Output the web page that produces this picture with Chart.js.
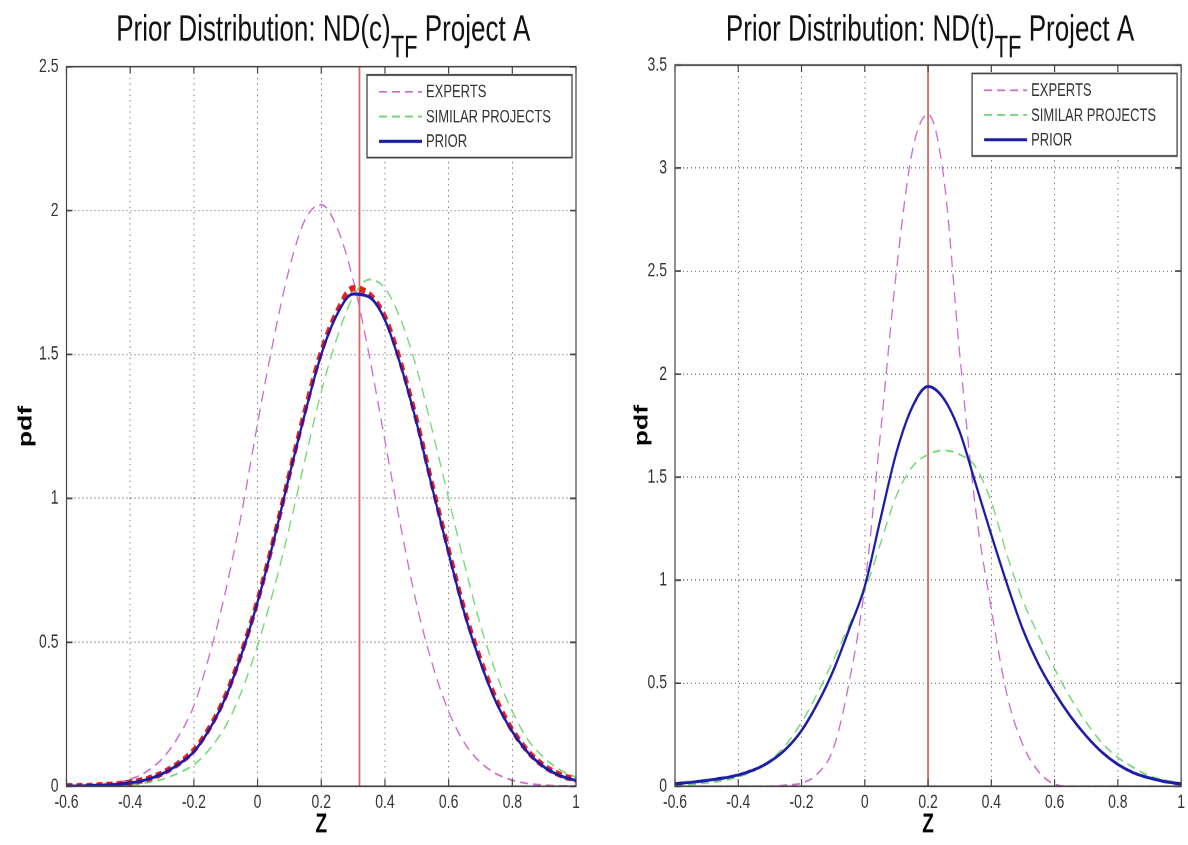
<!DOCTYPE html>
<html>
<head>
<meta charset="utf-8">
<script src="https://cdn.jsdelivr.net/npm/chart.js@4.4.1/dist/chart.umd.min.js"></script>
<style>
  html, body { margin: 0; padding: 0; background: #fff; }
  body { width: 1188px; height: 845px; overflow: hidden; position: relative; }
  /* the source figure is stretched vertically, so each panel is drawn flat and scaled */
  .panel { position: absolute; top: 0; width: 594px; height: 604px; transform-origin: 0 0; transform: scaleY(1.399); }
  #panelC { left: 0; }
  #panelT { left: 594px; }
</style>
</head>
<body>
<div class="panel" id="panelC"><canvas id="chartC" width="594" height="604"></canvas></div>
<div class="panel" id="panelT"><canvas id="chartT" width="594" height="604"></canvas></div>
<script>
const zGrid = [-0.6, -0.55, -0.5, -0.45, -0.4, -0.35, -0.3, -0.25, -0.2, -0.15, -0.1, -0.05, 0,
  0.05, 0.1, 0.15, 0.2, 0.25, 0.3, 0.35, 0.4, 0.45, 0.5, 0.55, 0.6, 0.65, 0.7, 0.75, 0.8, 0.85, 0.9, 0.95, 1];

// ND(c) TF
const expertsC = [0.001, 0.002, 0.005, 0.011, 0.024, 0.05, 0.095, 0.17, 0.28, 0.46, 0.68, 0.95, 1.26,
  1.55, 1.80, 1.97, 2.02, 1.94, 1.76, 1.50, 1.20, 0.90, 0.63, 0.42, 0.26, 0.15, 0.083, 0.043, 0.021, 0.009, 0.004, 0.002, 0.001];
const similarC = [0, 0.0005, 0.001, 0.003, 0.006, 0.012, 0.024, 0.045, 0.075, 0.13, 0.21, 0.33, 0.49,
  0.68, 0.90, 1.14, 1.37, 1.56, 1.70, 1.76, 1.73, 1.62, 1.45, 1.23, 1.00, 0.77, 0.56, 0.39, 0.26, 0.16, 0.099, 0.057, 0.031];
const priorC = [0.0005, 0.001, 0.003, 0.006, 0.012, 0.023, 0.043, 0.075, 0.12, 0.2, 0.31, 0.46, 0.64,
  0.85, 1.08, 1.30, 1.50, 1.64, 1.71, 1.70, 1.62, 1.46, 1.26, 1.03, 0.81, 0.60, 0.43, 0.29, 0.19, 0.116, 0.067, 0.037, 0.02];
const sampleC = [0.0005, 0.001, 0.003, 0.006, 0.013, 0.024, 0.045, 0.078, 0.125, 0.205, 0.315, 0.465, 0.645,
  0.855, 1.085, 1.31, 1.51, 1.65, 1.73, 1.71, 1.63, 1.47, 1.27, 1.04, 0.82, 0.61, 0.44, 0.30, 0.195, 0.12, 0.07, 0.04, 0.022];
const meanC = 0.32;
const yTopC = 2.5;

// ND(t) TF
const expertsT = [0, 0, 0, 0, 0, 0, 0, 0.005, 0.015, 0.06, 0.18, 0.5, 0.97,
  1.72, 2.5, 3.08, 3.26, 2.95, 2.1, 1.35, 0.86, 0.44, 0.2, 0.07, 0.01, 0, 0, 0, 0, 0, 0, 0, 0];
const similarT = [0.005, 0.01, 0.016, 0.027, 0.045, 0.077, 0.125, 0.2, 0.31, 0.45, 0.61, 0.78, 0.95,
  1.18, 1.41, 1.55, 1.61, 1.63, 1.61, 1.55, 1.38, 1.12, 0.9, 0.73, 0.57, 0.43, 0.31, 0.21, 0.14, 0.09, 0.05, 0.03, 0.015];
const priorT = [0.012, 0.019, 0.028, 0.039, 0.055, 0.08, 0.12, 0.18, 0.27, 0.4, 0.56, 0.76, 0.97,
  1.3, 1.62, 1.84, 1.94, 1.88, 1.72, 1.47, 1.22, 0.98, 0.76, 0.59, 0.455, 0.34, 0.244, 0.165, 0.106, 0.065, 0.04, 0.022, 0.011];
const meanT = 0.2;
const yTopT = 3.5;

const legendLabels = ['EXPERTS', 'SIMILAR PROJECTS', 'PRIOR'];

const PINK = '#cc6ccc', GREEN = '#74d874', BLUE = '#1c1ca8', RED = '#e8201c', REDLINE = '#d46a64';
const FONT = '"Liberation Sans", Arial, sans-serif';

function pts(vals) { return zGrid.map((z, i) => ({ x: z, y: vals[i] })); }

const decorations = {
  id: 'decorations',
  afterDraw(chart) {
    const ctx = chart.ctx, ca = chart.chartArea;
    const o = chart.options.plugins.decorations;
    ctx.save();
    // axes box
    ctx.strokeStyle = '#444';
    ctx.lineWidth = 1.2;
    ctx.setLineDash([]);
    ctx.strokeRect(ca.left, ca.top, ca.right - ca.left, ca.bottom - ca.top);
    // inward ticks on all four sides
    ctx.beginPath();
    chart.scales.x.ticks.forEach(t => {
      const px = chart.scales.x.getPixelForValue(t.value);
      ctx.moveTo(px, ca.bottom); ctx.lineTo(px, ca.bottom - 5);
      ctx.moveTo(px, ca.top); ctx.lineTo(px, ca.top + 5);
    });
    chart.scales.y.ticks.forEach(t => {
      const py = chart.scales.y.getPixelForValue(t.value);
      ctx.moveTo(ca.left, py); ctx.lineTo(ca.left + 6, py);
      ctx.moveTo(ca.right, py); ctx.lineTo(ca.right - 6, py);
    });
    ctx.stroke();

    // title with subscript
    ctx.fillStyle = '#111';
    ctx.textBaseline = 'alphabetic';
    ctx.textAlign = 'left';
    ctx.font = '26px ' + FONT;
    const w1 = ctx.measureText(o.title).width;
    const w3 = ctx.measureText(o.tail).width;
    ctx.font = '22px ' + FONT;
    const w2 = ctx.measureText(o.sub).width;
    let x = (ca.left + ca.right) / 2 + 2 - (w1 + w2 + w3) / 2;
    ctx.font = '26px ' + FONT;
    ctx.fillText(o.title, x, 28.8);
    ctx.font = '22px ' + FONT;
    ctx.fillText(o.sub, x + w1, 40.8);
    ctx.font = '26px ' + FONT;
    ctx.fillText(o.tail, x + w1 + w2, 28.8);

    // legend box inside the axes
    const bw = 205, bh = 59;
    const bx = ca.right - 4 - bw, by = ca.top + 6;
    ctx.fillStyle = '#fff';
    ctx.fillRect(bx, by, bw, bh);
    ctx.strokeStyle = '#444';
    ctx.lineWidth = 1.3;
    ctx.strokeRect(bx, by, bw, bh);
    ctx.font = '13px ' + FONT;
    ctx.textBaseline = 'middle';
    legendLabels.forEach((lab, k) => {
      const ds = chart.data.datasets[k];
      const y = by + 12 + k * 17.7;
      ctx.strokeStyle = ds.borderColor;
      ctx.lineWidth = ds.borderWidth;
      ctx.setLineDash(ds.borderDash || []);
      ctx.beginPath();
      ctx.moveTo(bx + 12, y); ctx.lineTo(bx + 55, y);
      ctx.stroke();
      ctx.setLineDash([]);
      ctx.fillStyle = '#333';
      ctx.fillText(lab, bx + 59, y + 0.5);
    });
    ctx.restore();
  }
};

function makeChart(id, cfg) {
  const W = 594, H = 604;
  const datasets = [
    { label: legendLabels[0], data: pts(cfg.experts), borderColor: PINK, borderWidth: 1.3, borderDash: [8, 5], order: 3 },
    { label: legendLabels[1], data: pts(cfg.similar), borderColor: GREEN, borderWidth: 1.3, borderDash: [8, 5], order: 4 },
    { label: legendLabels[2], data: pts(cfg.prior), borderColor: BLUE, borderWidth: 2.2, order: 1 },
    { label: 'mean', data: [{ x: cfg.mean, y: 0 }, { x: cfg.mean, y: cfg.yTop }], borderColor: REDLINE, borderWidth: 1.8, order: 5, tension: 0 }
  ];
  if (cfg.sample) {
    datasets.push({ label: 'sample', data: pts(cfg.sample), borderColor: RED, borderWidth: 4.5, borderDash: [6, 4], order: 2 });
  }
  datasets.forEach(d => { d.pointRadius = 0; d.fill = false; d.cubicInterpolationMode = 'monotone'; });

  return new Chart(document.getElementById(id), {
    type: 'line',
    data: { datasets },
    plugins: [decorations],
    options: {
      responsive: false,
      animation: false,
      devicePixelRatio: 2,
      layout: { padding: { top: cfg.plotTop, right: W - cfg.plotRight, left: 0, bottom: 0 } },
      plugins: {
        legend: { display: false },
        tooltip: { enabled: false },
        decorations: { title: cfg.title, sub: 'TF', tail: ' Project A' }
      },
      scales: {
        x: {
          type: 'linear', min: -0.6, max: 1,
          afterFit: s => { s.height = H - cfg.plotBottom; },
          ticks: { stepSize: 0.2, padding: 3, color: '#333', font: { family: FONT, size: 14 },
            callback: v => String(Number(v.toFixed(1))) },
          grid: { color: 'rgba(70,70,70,0.7)', lineWidth: 1, drawTicks: false },
          border: { display: false, dash: [1, 3] },
          title: { display: true, text: 'Z', color: '#000', font: { family: FONT, size: 19, weight: 'bold' }, padding: { top: 0, bottom: 3 } }
        },
        y: {
          type: 'linear', min: 0, max: cfg.yTop,
          afterFit: s => { s.width = cfg.plotLeft; },
          ticks: { stepSize: 0.5, padding: 8, color: '#333', font: { family: FONT, size: 14 },
            callback: v => String(Number(v.toFixed(1))) },
          grid: { color: 'rgba(70,70,70,0.7)', lineWidth: 1, drawTicks: false },
          border: { display: false, dash: [1, 3] },
          title: { display: true, text: 'pdf', color: '#000', font: { family: FONT, size: 19, weight: 'bold' }, padding: { top: cfg.pdfPad, bottom: 0 } }
        }
      }
    }
  });
}

makeChart('chartC', {
  title: 'Prior Distribution: ND(c)', experts: expertsC, similar: similarC, prior: priorC, sample: sampleC,
  mean: meanC, yTop: yTopC, plotLeft: 66.5, plotRight: 576, plotTop: 47.6, plotBottom: 562, pdfPad: 15
});
makeChart('chartT', {
  title: 'Prior Distribution: ND(t)', experts: expertsT, similar: similarT, prior: priorT,
  mean: meanT, yTop: yTopT, plotLeft: 81, plotRight: 589, plotTop: 46.5, plotBottom: 562, pdfPad: 37
});
</script>
</body>
</html>
